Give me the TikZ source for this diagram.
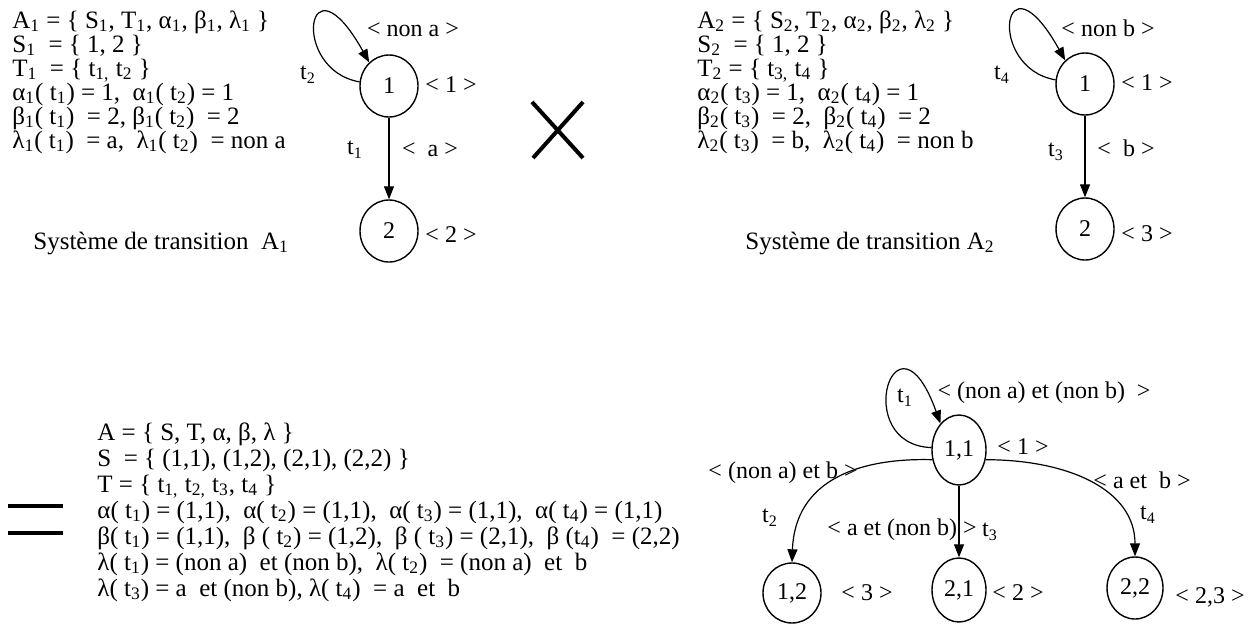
\documentclass[tikz,border=0pt]{standalone}
\usepackage{fontspec}
\setmainfont{Liberation Serif}
\usetikzlibrary{arrows.meta,shapes.geometric}
\newcommand{\sbs}[1]{\textsubscript{#1}}
\newcommand{\lines}[2]{\vtop{\baselineskip=#1\lineskiplimit=-100pt\lineskip=0pt #2}}
\begin{document}
\begin{tikzpicture}[x=0.5pt,y=-0.5pt,
  every node/.style={font=\fontsize{12}{14}\selectfont, inner sep=0pt},
  txt/.style={anchor=base west, font=\fontsize{12.5}{14}\selectfont},
  lbl/.style={anchor=center},
  st/.style 2 args={draw, ellipse, line width=0.7pt, minimum width=#1pt, minimum height=#2pt},
  edge/.style={-{Triangle[length=6.5pt,width=5pt]}, line width=0.6pt},
  bar/.style={line width=2pt}]
\useasboundingbox (0,0) rectangle (1252,627);

% ---------- System A1 ----------
\node[txt] (a1) at (12,28) {\lines{12pt}{%
\hbox{A\sbs{1} = \{ S\sbs{1}, T\sbs{1}, α\sbs{1}, β\sbs{1}, λ\sbs{1} \}}
\hbox{S\sbs{1} \ = \{ 1, 2 \}}
\hbox{T\sbs{1} \ = \{ t\sbs{1,} t\sbs{2} \}}
\hbox{α\sbs{1}( t\sbs{1}) = 1, \ α\sbs{1}( t\sbs{2}) = 1}
\hbox{β\sbs{1}( t\sbs{1}) \ = 2, β\sbs{1}( t\sbs{2}) \ = 2}
\hbox{λ\sbs{1}( t\sbs{1}) \ = a, \ λ\sbs{1}( t\sbs{2}) \ = non a}}};
\node[txt] (a7) at (33,249) {Système de transition \ A\sbs{1}};

\node[st={29}{31}] (g1n1) at (389,86) {1};
\node[st={29}{31}] (g1n2) at (389,231) {2};
\node[lbl] (g1l1) at (451,85) {< 1 >};
\node[lbl] (g1l2) at (451,235) {< 2 >};
\node[lbl] (g1na) at (413,30) {< non a >};
\node[lbl] (g1t2) at (308,75) {t\sbs{2}};
\node[lbl] (g1t1) at (355,150) {t\sbs{1}};
\node[lbl] (g1a) at (430,150) {< \ a >};
\draw[edge] (g1n1.south) -- (g1n2.north);
\draw[edge] (g1n1.172) .. controls +(-70,-12) and +(-63,-113) .. (g1n1.130);

% ---------- product sign ----------
\draw[bar] (532,102) -- (583,158);
\draw[bar] (583,102) -- (533,158);

% ---------- System A2 ----------
\node[txt] (b1) at (697,28) {\lines{12pt}{%
\hbox{A\sbs{2} = \{ S\sbs{2}, T\sbs{2}, α\sbs{2}, β\sbs{2}, λ\sbs{2} \}}
\hbox{S\sbs{2} \ = \{ 1, 2 \}}
\hbox{T\sbs{2} = \{ t\sbs{3,} t\sbs{4} \}}
\hbox{α\sbs{2}( t\sbs{3}) = 1, \ α\sbs{2}( t\sbs{4}) = 1}
\hbox{β\sbs{2}( t\sbs{3}) \ = 2, \ β\sbs{2}( t\sbs{4}) \ = 2}
\hbox{λ\sbs{2}( t\sbs{3}) \ = b, \ λ\sbs{2}( t\sbs{4}) \ = non b}}};
\node[txt] (b7) at (745,249) {Système de transition A\sbs{2}};

\node[st={29}{31}] (g2n1) at (1085,84) {1};
\node[st={29}{31}] (g2n2) at (1085,229) {2};
\node[lbl] (g2l1) at (1147,83) {< 1 >};
\node[lbl] (g2l3) at (1147,234) {< 3 >};
\node[lbl] (g2nb) at (1108,28) {< non b >};
\node[lbl] (g2t4) at (1002,75) {t\sbs{4}};
\node[lbl] (g2t3) at (1056,152) {t\sbs{3}};
\node[lbl] (g2b) at (1126,148) {< \ b >};
\draw[edge] (g2n1.south) -- (g2n2.north);
\draw[edge] (g2n1.172) .. controls +(-70,-12) and +(-63,-113) .. (g2n1.130);

% ---------- equals sign ----------
\draw[bar] (8,506) -- (63,506);
\draw[bar] (8,533) -- (63,533);

% ---------- Product A ----------
\node[txt] (c1) at (97,440) {\lines{13pt}{%
\hbox{A = \{ S, T, α, β, λ \}}
\hbox{S \ = \{ (1,1), (1,2), (2,1), (2,2) \}}
\hbox{T = \{ t\sbs{1,} t\sbs{2,} t\sbs{3}, t\sbs{4} \}}
\hbox{α( t\sbs{1}) = (1,1), \ α( t\sbs{2}) = (1,1), \ α( t\sbs{3}) = (1,1), \ α( t\sbs{4}) = (1,1)}
\hbox{β( t\sbs{1}) = (1,1), \ β ( t\sbs{2}) = (1,2), \ β ( t\sbs{3}) = (2,1), \ β (t\sbs{4}) \ = (2,2)}
\hbox{λ( t\sbs{1}) = (non a) \ et (non b), \ λ( t\sbs{2}) \ = (non a) \ et \ b}
\hbox{λ( t\sbs{3}) = a \ et (non b), λ( t\sbs{4}) \ = a \ et \ b}}};

\node[st={27}{35}] (n11) at (959,450) {1,1};
\node[st={29}{30}] (n12) at (792,593) {1,2};
\node[st={27}{32}] (n21) at (959,590) {2,1};
\node[st={28}{31}] (n22) at (1135,588) {2,2};

\node[lbl] (lt1) at (905,398) {t\sbs{1}};
\node[lbl] (lnn) at (1044,393) {< (non a) et (non b) \ >};
\node[lbl] (l1) at (1023,447) {< 1 >};
\node[lbl] (lnab) at (783,473) {< (non a) et b >};
\node[lbl] (lt2) at (770,518) {t\sbs{2}};
\node[lbl] (lanb) at (902,530) {< a et (non b) >};
\node[lbl] (lt3) at (990,532) {t\sbs{3}};
\node[lbl] (lab) at (1142,480) {< a et \ b >};
\node[lbl] (lt4) at (1148,515) {t\sbs{4}};
\node[lbl] (l3) at (867,593) {< 3 >};
\node[lbl] (l2) at (1018,593) {< 2 >};
\node[lbl] (l23) at (1210,597) {< 2,3 >};

\draw[edge] (n11.175) .. controls +(-82,-3) and +(-45,-125) .. (n11.125);
\draw[edge] (n11.south) -- (n21.north);
\draw[edge] (n11.200) .. controls +(-72,-2) and +(3,-83) .. (n12.north);
\draw[edge] (n11.340) .. controls +(82,0) and +(0,-67) .. (n22.north);
\end{tikzpicture}
\end{document}
